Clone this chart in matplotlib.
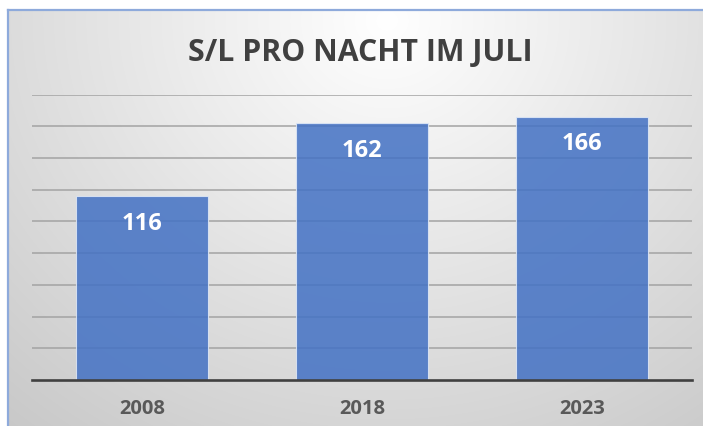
import numpy as np
import matplotlib
matplotlib.use("Agg")
import matplotlib.pyplot as plt

years = ["2008", "2018", "2023"]
prices = [116, 162, 166]
title = "S/L PRO NACHT IM JULI"

plt.rcParams['font.family'] = ['Open Sans', 'DejaVu Sans']

W, H = 703, 427
fig = plt.figure(figsize=(W / 100, H / 100), dpi=100)

# background: soft radial gradient like the Excel chart area
bg = fig.add_axes([0, 0, 1, 1], zorder=0)
yy, xx = np.mgrid[0:H, 0:W]
d = np.hypot((xx - 0.55 * W) * 0.95, (yy - 0.05 * H) * 1.05)
shade = np.clip(255 - d * 0.098, 195, 255) / 255.0
img = np.dstack([shade, shade, shade])
img[:11, :, :] = 1.0
img[:, :8, :] = 1.0
bg.imshow(img, extent=[0, W, H, 0], aspect='auto', interpolation='bilinear')
bg.plot([8, W], [11, 11], color='#8eaadb', lw=1.6)
bg.plot([8, 8], [11, H], color='#8eaadb', lw=1.6)
bg.set_xlim(0, W)
bg.set_ylim(H, 0)
bg.axis('off')

ax = fig.add_axes([32 / W, 1 - 381 / H, 660 / W, (381 - 95.5) / H], zorder=1)
ax.patch.set_alpha(0)

x = np.arange(len(years))
bars = ax.bar(x, prices, width=0.6, color='#4472c4', alpha=0.86,
              edgecolor='#dfe8f6', linewidth=0.8, zorder=2)

ax.set_xlim(-0.5, len(years) - 0.5)
ax.set_ylim(0, 180)
ax.set_yticks(np.arange(20, 181, 20))
ax.yaxis.grid(True, color='#a3a3a3', linewidth=1.1, zorder=1)
ax.set_axisbelow(True)
ax.tick_params(axis='y', left=False, labelleft=False)
ax.tick_params(axis='x', length=0, pad=13)
ax.set_xticks(x)
ax.set_xticklabels(years, fontsize=14.5, fontweight='bold', color='#595959')

for s in ['top', 'right', 'left']:
    ax.spines[s].set_visible(False)
ax.spines['bottom'].set_color('#404040')
ax.spines['bottom'].set_linewidth(1.9)
ax.spines['bottom'].set_zorder(3)

# value labels inside the top of each bar
for b, v in zip(bars, prices):
    ax.annotate(str(v), (b.get_x() + b.get_width() / 2, v),
                xytext=(0, -23.5), textcoords='offset points',
                ha='center', va='baseline', fontsize=17,
                fontweight='bold', color='white', zorder=4)

fig.text(0.513, 1 - 61 / H, title, ha='center', va='baseline',
         fontsize=21.8, fontweight='bold', color='#404040', zorder=2)

fig.savefig("out.png", dpi=100)
